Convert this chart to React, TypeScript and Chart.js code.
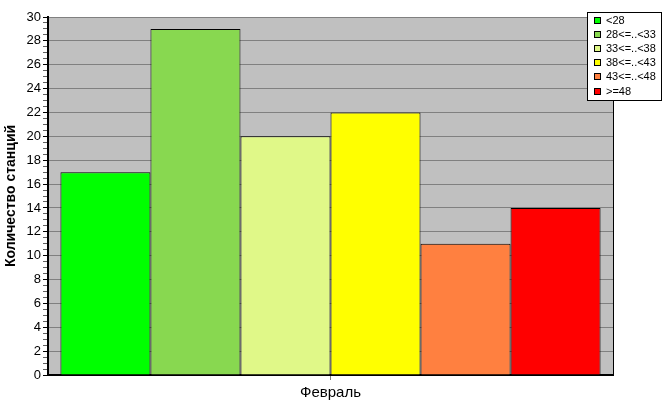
import { useEffect, useRef } from 'react';
import { Chart, registerables } from 'chart.js';

Chart.register(...registerables);

const categories = ['Февраль'];
const seriesLabels = ['<28', '28<=..<33', '33<=..<38', '38<=..<43', '43<=..<48', '>=48'];
const seriesValues = [17, 29, 20, 22, 11, 14];
const seriesColors = ['#00FF00', '#88D850', '#E0F888', '#FFFF00', '#FF8040', '#FF0000'];
const yMin = 0;
const yMax = 30;
const yMajorStep = 2;
const yMinorStep = 0.5;
const yTitle = 'Количество станций';

const FONT = '"Liberation Sans", Arial, sans-serif';

const decorPlugin = {
  id: 'decor',
  beforeDraw(chart: any) {
    const { ctx, chartArea } = chart;
    ctx.save();
    ctx.fillStyle = '#FFFFFF';
    ctx.fillRect(0, 0, chart.width, chart.height);
    ctx.fillStyle = '#C0C0C0';
    ctx.fillRect(chartArea.left, chartArea.top, chartArea.right - chartArea.left, chartArea.bottom - chartArea.top);
    ctx.restore();
  },
  afterDraw(chart: any) {
    const { ctx, chartArea } = chart;
    ctx.save();
    ctx.strokeStyle = '#000000';
    ctx.lineWidth = 1;
    ctx.beginPath();
    ctx.moveTo(chartArea.right + 0.5, chartArea.top);
    ctx.lineTo(chartArea.right + 0.5, chartArea.bottom);
    ctx.stroke();

    const ds = chart.data.datasets;
    const bx = 587.5, by = 12.5, bw = 74, bh = 88;
    ctx.fillStyle = '#FFFFFF';
    ctx.fillRect(bx, by, bw, bh);
    ctx.strokeStyle = '#000000';
    ctx.strokeRect(bx, by, bw, bh);
    ctx.font = '11px ' + FONT;
    ctx.textBaseline = 'middle';
    ctx.textAlign = 'left';
    ds.forEach((d: any, i: number) => {
      const cy = 20.5 + i * 14.1;
      const my = Math.round(cy - 3.5);
      ctx.fillStyle = d.backgroundColor;
      ctx.fillRect(594, my, 7, 7);
      ctx.strokeStyle = '#000000';
      ctx.strokeRect(594.5, my + 0.5, 6, 6);
      ctx.fillStyle = '#000000';
      ctx.fillText(d.label, 606, cy + 0.5);
    });
    ctx.restore();
  },
};

export default function App() {
  const ref = useRef<HTMLCanvasElement | null>(null);
  useEffect(() => {
    if (!ref.current) return;
    const chart = new Chart(ref.current, {
      type: 'bar',
      data: {
        labels: categories,
        datasets: seriesLabels.map((label, i) => ({
          label,
          data: [seriesValues[i]],
          backgroundColor: seriesColors[i],
          borderColor: '#000000',
          borderWidth: 1,
          categoryPercentage: 0.956,
          barPercentage: 1,
        })),
      },
      options: {
        animation: false,
        responsive: false,
        maintainAspectRatio: false,
        layout: { padding: { left: 0, top: 17, right: 54, bottom: 0 } },
        plugins: { legend: { display: false }, tooltip: { enabled: false } },
        scales: {
          x: {
            grid: {
              offset: false,
              drawOnChartArea: false,
              drawTicks: true,
              tickLength: 5,
              color: '#808080',
            },
            border: { color: '#000000', width: 2 },
            ticks: { color: '#000000', font: { family: FONT, size: 15 }, padding: 4 },
            afterFit(scale: any) { scale.height = 40; },
          },
          y: {
            min: yMin,
            max: yMax,
            grid: {
              color: (c: any) => (c.tick && Math.abs(c.tick.value % yMajorStep) < 1e-6 && c.tick.value > 0 ? '#808080' : 'rgba(0,0,0,0)'),
              tickColor: (c: any) => (c.tick && Math.abs(c.tick.value % yMajorStep) < 1e-6 ? '#000000' : '#606060'),
              tickLength: 5,
              lineWidth: 1,
            },
            border: { color: '#000000', width: 2 },
            ticks: {
              stepSize: yMinorStep,
              autoSkip: false,
              color: '#000000',
              font: { family: FONT, size: 13 },
              padding: 2,
              callback: (v: any) => (Math.abs(Number(v) % yMajorStep) < 1e-6 ? String(v) : ''),
            },
            title: {
              display: true,
              text: yTitle,
              color: '#000000',
              font: { family: FONT, size: 14, weight: 'bold' },
              padding: { top: 3, bottom: 0 },
            },
            afterFit(scale: any) { scale.width = 48; },
          },
        },
      },
      plugins: [decorPlugin],
    } as any);
    return () => chart.destroy();
  }, []);
  return (
    <div style={{ position: 'absolute', left: 0, top: 0, width: 667, height: 415, background: '#fff' }}>
      <canvas ref={ref} width={667} height={415} style={{ display: 'block' }} />
    </div>
  );
}
